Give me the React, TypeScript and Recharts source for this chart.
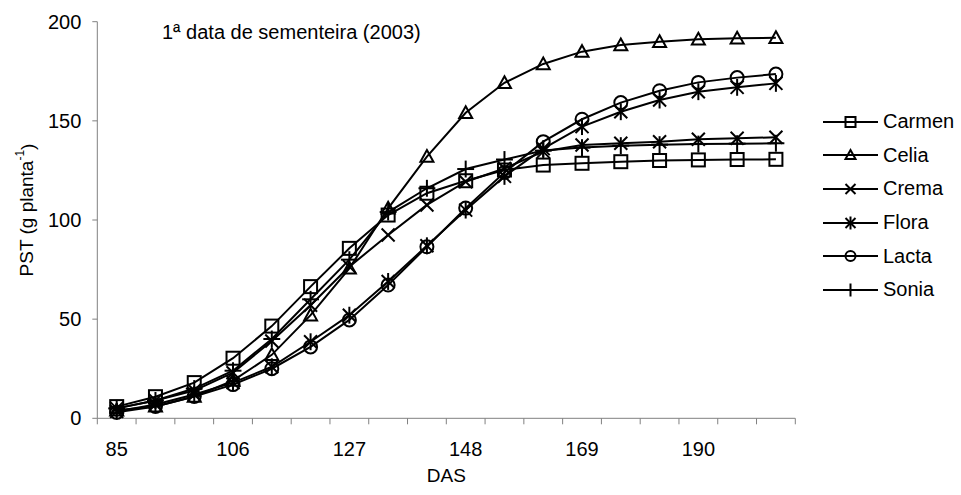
import { LineChart, Line, XAxis, YAxis, Legend } from 'recharts';

// days after sowing (DAS) and total dry weight per plant
const days = [85, 92, 99, 106, 113, 120, 127, 134, 141, 148, 155, 162, 169, 176, 183, 190, 197, 204];
const carmen = [5.9, 10.9, 18, 30.3, 46.5, 66.4, 85.7, 102.5, 113.5, 119.8, 125.2, 127.7, 128.6, 129.4, 130, 130.3, 130.5, 130.6];
const celia = [4, 6, 11, 19, 32, 52, 75.6, 105.9, 132, 154.1, 169.2, 178.7, 184.9, 188.2, 189.9, 191.1, 191.6, 191.9];
const crema = [5, 9, 14, 23, 39, 57, 76.5, 92.4, 107.6, 119.3, 126, 134.5, 137.8, 138.7, 139.5, 140.7, 141.2, 141.7];
const flora = [3.5, 7, 12, 18, 26, 38.6, 52, 69, 87, 105, 122, 136, 147.1, 154.6, 160.5, 164.7, 166.9, 168.9];
const lacta = [3, 6, 11, 17, 25, 36, 49.6, 67.2, 86.5, 106, 124, 139.5, 150.8, 159.2, 165.2, 169.4, 171.8, 173.6];
const sonia = [5, 9, 15, 24, 40, 60, 80, 104, 116, 125.7, 130.5, 135, 136.5, 137.5, 138, 138.3, 138.5, 138.7];
const yTicks = [0, 50, 100, 150, 200];

type Shape = 'square' | 'triangle' | 'x' | 'star' | 'circle' | 'plus';

const series: { name: string; shape: Shape }[] = [
  { name: 'Carmen', shape: 'square' },
  { name: 'Celia', shape: 'triangle' },
  { name: 'Crema', shape: 'x' },
  { name: 'Flora', shape: 'star' },
  { name: 'Lacta', shape: 'circle' },
  { name: 'Sonia', shape: 'plus' },
];

const data = days.map((d, i) => ({
  das: d,
  Carmen: carmen[i],
  Celia: celia[i],
  Crema: crema[i],
  Flora: flora[i],
  Lacta: lacta[i],
  Sonia: sonia[i],
}));

const W = 961;
const H = 495;
const PLOT_LEFT = 97.3;
const PLOT_RIGHT = 795.3;
const PLOT_TOP = 21.7;
const PLOT_BOTTOM = 418.3;
const BAND = (PLOT_RIGHT - PLOT_LEFT) / days.length;
const AXIS = '#808080';
const FONT = '"Liberation Sans", Arial, sans-serif';

function Marker({ shape, cx, cy, r }: { shape: Shape; cx: number; cy: number; r: number }) {
  const s = { fill: 'none', stroke: '#000', strokeWidth: 2 };
  switch (shape) {
    case 'square':
      return <rect x={cx - r} y={cy - r} width={2 * r} height={2 * r} {...s} />;
    case 'triangle':
      return <polygon points={`${cx},${cy - r} ${cx + r},${cy + r * 0.8} ${cx - r},${cy + r * 0.8}`} {...s} />;
    case 'circle':
      return <circle cx={cx} cy={cy} r={r} {...s} />;
    case 'x':
      return (
        <g {...s}>
          <line x1={cx - r} y1={cy - r} x2={cx + r} y2={cy + r} />
          <line x1={cx - r} y1={cy + r} x2={cx + r} y2={cy - r} />
        </g>
      );
    case 'star':
      return (
        <g {...s}>
          <line x1={cx - r} y1={cy - r} x2={cx + r} y2={cy + r} />
          <line x1={cx - r} y1={cy + r} x2={cx + r} y2={cy - r} />
          <line x1={cx} y1={cy - r * 1.3} x2={cx} y2={cy + r * 1.3} />
        </g>
      );
    case 'plus':
    default:
      return (
        <g {...s}>
          <line x1={cx} y1={cy - r * 1.3} x2={cx} y2={cy + r * 1.3} />
          <line x1={cx - r * 1.3} y1={cy} x2={cx + r * 1.3} y2={cy} />
        </g>
      );
  }
}

function makeDot(name: string, shape: Shape) {
  return (p: { cx?: number; cy?: number; index?: number }) => (
    <g key={`${name}-${p.index}`}>
      {p.cx != null && p.cy != null && <Marker shape={shape} cx={p.cx} cy={p.cy} r={6.5} />}
    </g>
  );
}

// Excel-style category axis: tick marks between categories, label every 3rd
function XTick(props: { x?: number; payload?: { value: number; index: number } }) {
  const { x = 0, payload } = props;
  if (!payload) return null;
  const i = payload.index;
  return (
    <g>
      <line x1={x - BAND / 2} y1={PLOT_BOTTOM} x2={x - BAND / 2} y2={PLOT_BOTTOM + 6} stroke={AXIS} />
      {i === days.length - 1 && (
        <line x1={x + BAND / 2} y1={PLOT_BOTTOM} x2={x + BAND / 2} y2={PLOT_BOTTOM + 6} stroke={AXIS} />
      )}
      {i % 3 === 0 && (
        <text x={x} y={456} textAnchor="middle" fontSize={20} fontFamily={FONT} fill="#000">
          {payload.value}
        </text>
      )}
    </g>
  );
}

function YTitle() {
  const cx = 26.7;
  const cy = 210;
  return (
    <text
      x={cx}
      y={cy}
      transform={`rotate(-90, ${cx}, ${cy})`}
      textAnchor="middle"
      dominantBaseline="central"
      fontSize={19}
      fontFamily={FONT}
      fill="#000"
    >
      PST (g planta
      <tspan dy={-7} fontSize={12}>-1</tspan>
      <tspan dy={7}>)</tspan>
    </text>
  );
}

function XTitle() {
  return (
    <text x={(PLOT_LEFT + PLOT_RIGHT) / 2} y={482} textAnchor="middle" fontSize={19} fontFamily={FONT} fill="#000">
      DAS
    </text>
  );
}

function LegendBox({ payload }: { payload?: { value: string; dataKey?: string }[] }) {
  return (
    <div style={{ fontFamily: FONT, fontSize: 20, color: '#000' }}>
      {(payload ?? []).map((p) => {
        const shape = series.find((s) => s.name === p.value)?.shape ?? 'square';
        return (
          <div key={p.value} style={{ display: 'flex', alignItems: 'center', height: 33.6 }}>
            <svg width={55} height={20} style={{ display: 'block' }}>
              <line x1={0} y1={10} x2={55} y2={10} stroke="#000" strokeWidth={2} />
              <Marker shape={shape} cx={27.5} cy={10} r={5} />
            </svg>
            <span style={{ marginLeft: 5, lineHeight: '23px' }}>{p.value}</span>
          </div>
        );
      })}
    </div>
  );
}

export default function App() {
  return (
    <div style={{ position: 'absolute', left: 0, top: 0, width: W, height: H, background: '#fff' }}>
      <LineChart
        width={W}
        height={H}
        data={data}
        margin={{ top: PLOT_TOP, right: W - PLOT_RIGHT, bottom: 0, left: 0 }}
      >
        <XAxis
          dataKey="das"
          type="category"
          interval={0}
          padding={{ left: BAND / 2, right: BAND / 2 }}
          tickSize={0}
          tickMargin={0}
          tickLine={false}
          stroke={AXIS}
          axisLine={true}
          tick={<XTick />}
          height={H - PLOT_BOTTOM}
          label={{ content: <XTitle /> }}
        />
        <YAxis
          type="number"
          domain={[0, 200]}
          ticks={yTicks}
          width={PLOT_LEFT}
          stroke={AXIS}
          tickSize={5}
          tickMargin={11}
          tick={{ fill: '#000', fontSize: 20, fontFamily: FONT }}
          label={{ content: <YTitle /> }}
        />
        <Legend
          layout="vertical"
          align="center"
          verticalAlign="middle"
          content={<LegendBox />}
          wrapperStyle={{ left: 823, top: 105, width: 138 }}
        />
        {series.map((s) => (
          <Line
            key={s.name}
            dataKey={s.name}
            stroke="#000"
            strokeWidth={2}
            dot={makeDot(s.name, s.shape)}
            activeDot={false}
            isAnimationActive={false}
          />
        ))}
        <text x={162} y={38.5} fontSize={20} fontFamily={FONT} fill="#000">
          1ª data de sementeira (2003)
        </text>
      </LineChart>
    </div>
  );
}
